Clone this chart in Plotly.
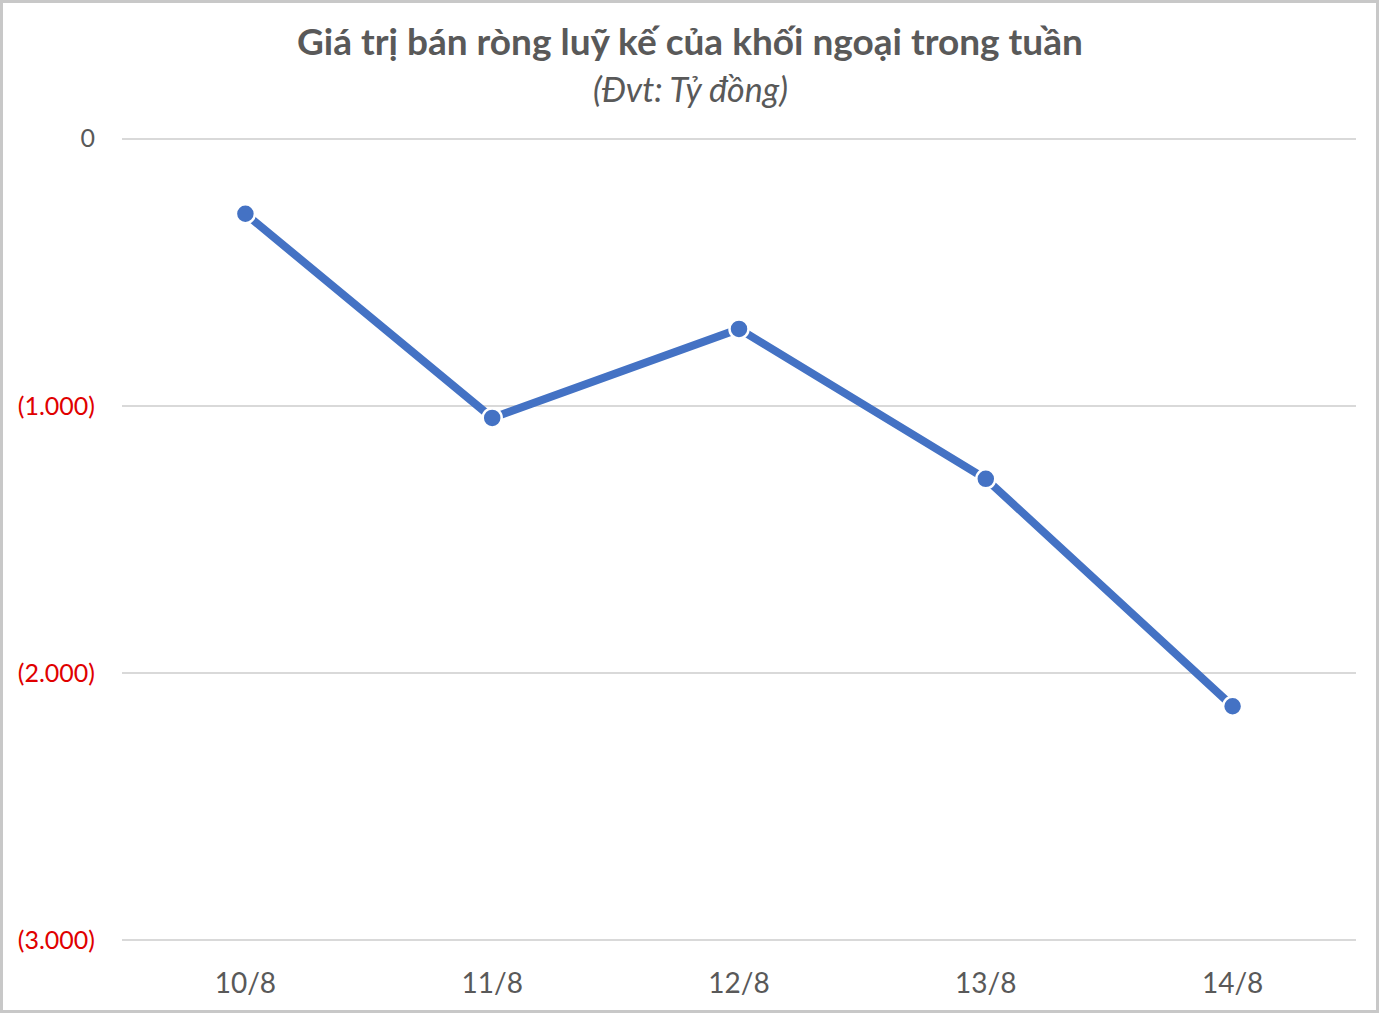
import plotly.graph_objects as go

# Cumulative net selling by foreign investors (billion VND)
days = ["10/8", "11/8", "12/8", "13/8", "14/8"]
net_value = [-281, -1045, -712, -1273, -2124]

tick_vals = [0, -1000, -2000, -3000]
tick_text = [
    "0",
    "<span style='color:#E00000'>(1.000)</span>",
    "<span style='color:#E00000'>(2.000)</span>",
    "<span style='color:#E00000'>(3.000)</span>",
]

blue = "#4472C4"
grey = "#595959"
font_family = "Lato, 'Open Sans', sans-serif"

W, H = 1380, 1014
L, R, T, B = 122, 24, 136, 71
pw, ph = W - L - R, H - T - B
title_x = (W / 2 - L) / pw  # centre titles on the whole image, not the plot

fig = go.Figure()
fig.add_trace(go.Scatter(
    x=days, y=net_value, mode="lines+markers",
    line=dict(color=blue, width=8),
    marker=dict(size=19, color=blue, line=dict(color="white", width=2.5)),
    hoverinfo="x+y",
))

fig.update_layout(
    width=W, height=H,
    margin=dict(l=L, r=R, t=T, b=B),
    paper_bgcolor="white", plot_bgcolor="white",
    showlegend=False,
    font=dict(family=font_family, color=grey),
    xaxis=dict(
        range=[-0.5, 4.5],
        showgrid=False, showline=False, zeroline=False,
        tickfont=dict(size=28, color=grey),
        ticks="outside", ticklen=0, ticklabelstandoff=15,
    ),
    yaxis=dict(
        range=[-3010, 10], tickvals=tick_vals, ticktext=tick_text,
        showgrid=True, gridcolor="#D9D9D9", gridwidth=1.5,
        zeroline=False, showline=False,
        tickfont=dict(size=25, color=grey),
        ticks="outside", ticklen=0, ticklabelstandoff=21,
    ),
)

fig.add_annotation(text="<b>Giá trị bán ròng luỹ kế của khối ngoại trong tuần</b>",
                   x=title_x, xref="paper", y=1, yref="paper", yshift=T - 40,
                   yanchor="middle", showarrow=False,
                   font=dict(size=37, color=grey, family=font_family))
fig.add_annotation(text="<i>(Đvt: Tỷ đồng)</i>",
                   x=title_x, xref="paper", y=1, yref="paper", yshift=T - 88,
                   yanchor="middle", showarrow=False,
                   font=dict(size=34, color=grey, family=font_family))

# thin frame around the chart
fig.add_shape(type="rect", xref="paper", yref="paper",
              x0=(1.5 - L) / pw, x1=(W - 2.5 - L) / pw,
              y0=(ph + T - (H - 2.5)) / ph, y1=(ph + T - 1.5) / ph,
              line=dict(color="#C8C8C8", width=3))

fig.write_html("out.html", config={"displayModeBar": False},
               post_script="document.body.style.margin='0';")
